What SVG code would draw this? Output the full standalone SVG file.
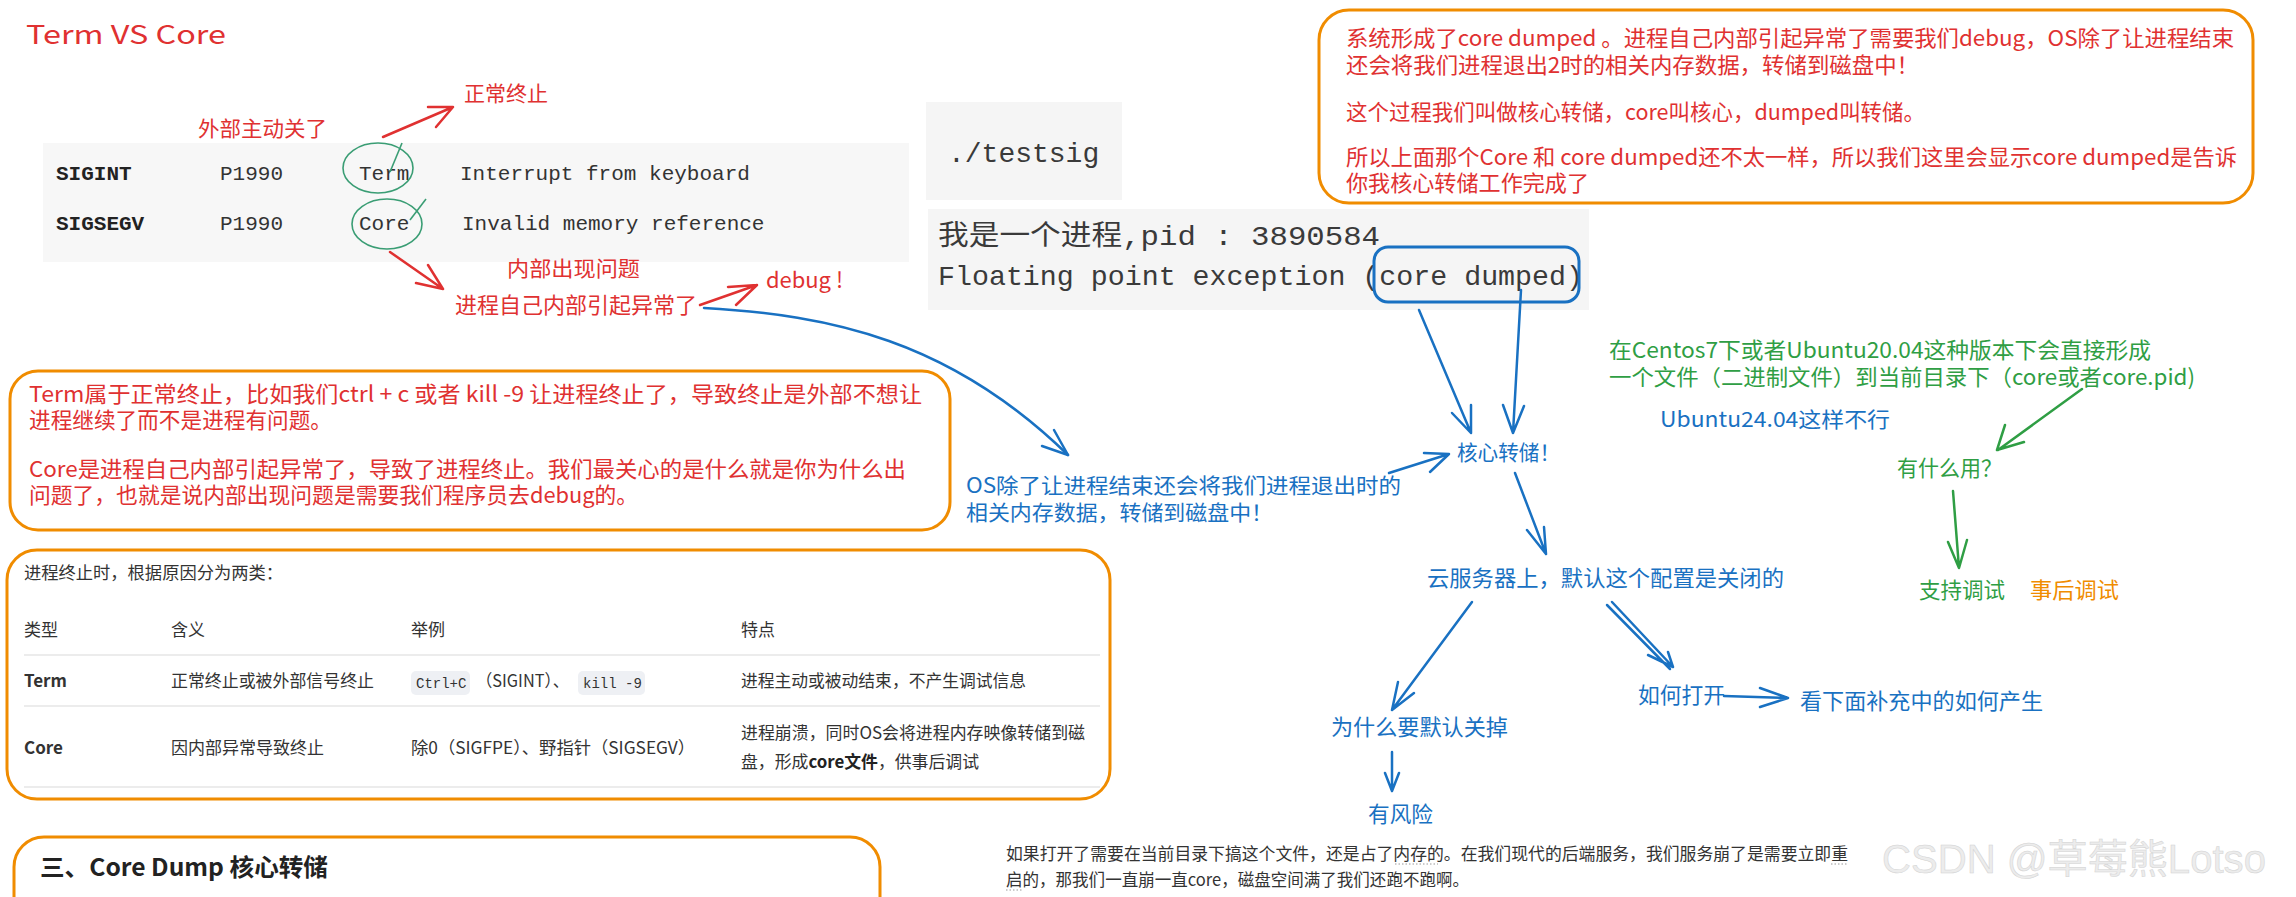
<svg xmlns="http://www.w3.org/2000/svg" width="2296" height="897" viewBox="0 0 2296 897">
<defs>
<style>
.hw{font-family:"Noto Sans CJK SC","Noto Sans",sans-serif;}
.red{fill:#e03131;}
.blue{fill:#1971c2;}
.green{fill:#2f9e44;}
.orange{fill:#f08c00;}
.mono{font-family:"Liberation Mono","DejaVu Sans Mono","Noto Sans CJK SC",monospace;}
.tbl{font-family:"Noto Sans CJK SC","Noto Sans",sans-serif;fill:#333;font-size:17px;}
.box{fill:#fff;stroke:#f08c00;stroke-width:3;}
.ab{fill:none;stroke:#1971c2;stroke-width:2.5;stroke-linecap:round;stroke-linejoin:round;}
.ar{fill:none;stroke:#e03131;stroke-width:2.5;stroke-linecap:round;stroke-linejoin:round;}
.ag{fill:none;stroke:#2f9e44;stroke-width:2.5;stroke-linecap:round;stroke-linejoin:round;}
.circ{fill:none;stroke:#3a9d74;stroke-width:1.6;}
.sep{stroke:#e6e6e6;stroke-width:1.5;}
.chip{fill:#eef0f4;}
</style>
</defs>
<rect width="2296" height="897" fill="#fff"/>

<g id="title">
<text class="hw red" x="26" y="44" font-size="26" textLength="200" lengthAdjust="spacingAndGlyphs">Term VS Core</text>
</g>

<g id="signal-table-shot">
<rect x="43" y="143" width="866" height="119" fill="#f7f7f7"/>
<text class="mono" x="56" y="180" font-size="21" font-weight="bold" fill="#222">SIGINT</text>
<text class="mono" x="220" y="180" font-size="21" fill="#333">P1990</text>
<text class="mono" x="359" y="180" font-size="21" fill="#333">Term</text>
<text class="mono" x="460" y="180" font-size="21" fill="#333">Interrupt from keyboard</text>
<text class="mono" x="56" y="230" font-size="21" font-weight="bold" fill="#222">SIGSEGV</text>
<text class="mono" x="220" y="230" font-size="21" fill="#333">P1990</text>
<text class="mono" x="359" y="230" font-size="21" fill="#333">Core</text>
<text class="mono" x="462" y="230" font-size="21" fill="#333">Invalid memory reference</text>
<ellipse class="circ" cx="378" cy="168" rx="35" ry="25"/>
<path class="circ" d="M402,143 L390,172"/>
<ellipse class="circ" cx="387" cy="224" rx="35" ry="25"/>
<path class="circ" d="M426,199 L410,220"/>
</g>

<g id="label-external">
<text class="hw red" x="198" y="136" font-size="21" textLength="129" lengthAdjust="spacingAndGlyphs">外部主动关了</text>
</g>
<g id="label-normal">
<text class="hw red" x="464" y="101" font-size="21" textLength="84" lengthAdjust="spacingAndGlyphs">正常终止</text>
</g>
<g id="label-internal">
<text class="hw red" x="507" y="276" font-size="21" textLength="133" lengthAdjust="spacingAndGlyphs">内部出现问题</text>
</g>
<g id="label-self-exception">
<text class="hw red" x="455" y="313" font-size="22" textLength="242" lengthAdjust="spacingAndGlyphs">进程自己内部引起异常了</text>
</g>
<g id="label-debug">
<text class="hw red" x="766" y="288" font-size="22" textLength="77" lengthAdjust="spacingAndGlyphs">debug !</text>
</g>

<g id="testsig-shot">
<rect x="926" y="102" width="196" height="98" fill="#f5f5f5"/>
<text class="mono" x="948" y="162" font-size="28" fill="#3a3a3a">./testsig</text>
</g>

<g id="output-shot">
<rect x="928" y="209" width="661" height="101" fill="#f5f5f5"/>
<text class="mono" x="938" y="245" font-size="28" fill="#3a3a3a" textLength="442" lengthAdjust="spacingAndGlyphs">我是一个进程,pid : 3890584</text>
<text class="mono" x="938" y="285" font-size="28" fill="#3a3a3a" textLength="645" lengthAdjust="spacingAndGlyphs">Floating point exception (core dumped)</text>
<rect x="1374" y="247" width="205" height="55" rx="14" fill="none" stroke="#1971c2" stroke-width="3"/>
</g>

<g id="note-core-dumped">
<rect class="box" x="1319" y="10" width="934" height="193" rx="30"/>
<g class="hw red" font-size="22">
<text x="1346" y="46" textLength="888" lengthAdjust="spacingAndGlyphs">系统形成了core dumped 。进程自己内部引起异常了需要我们debug，OS除了让进程结束</text>
<text x="1346" y="73" textLength="573" lengthAdjust="spacingAndGlyphs">还会将我们进程退出2时的相关内存数据，转储到磁盘中！</text>
<text x="1346" y="120" textLength="579" lengthAdjust="spacingAndGlyphs">这个过程我们叫做核心转储，core叫核心，dumped叫转储。</text>
<text x="1346" y="165" textLength="891" lengthAdjust="spacingAndGlyphs">所以上面那个Core 和 core dumped还不太一样，所以我们这里会显示core dumped是告诉</text>
<text x="1346" y="191" textLength="243" lengthAdjust="spacingAndGlyphs">你我核心转储工作完成了</text>
</g>
</g>

<g id="note-term-core">
<rect class="box" x="10" y="371" width="940" height="159" rx="28"/>
<g class="hw red" font-size="22">
<text x="29" y="402" textLength="893" lengthAdjust="spacingAndGlyphs">Term属于正常终止，比如我们ctrl + c 或者 kill -9 让进程终止了，导致终止是外部不想让</text>
<text x="29" y="428" textLength="303" lengthAdjust="spacingAndGlyphs">进程继续了而不是进程有问题。</text>
<text x="29" y="477" textLength="877" lengthAdjust="spacingAndGlyphs">Core是进程自己内部引起异常了，导致了进程终止。我们最关心的是什么就是你为什么出</text>
<text x="29" y="503" textLength="609" lengthAdjust="spacingAndGlyphs">问题了，也就是说内部出现问题是需要我们程序员去debug的。</text>
</g>
</g>

<g id="table-box">
<rect class="box" x="7" y="550" width="1103" height="249" rx="30"/>
<text class="tbl" x="24" y="579" textLength="259" lengthAdjust="spacingAndGlyphs">进程终止时，根据原因分为两类：</text>
<text class="tbl" x="24" y="636">类型</text>
<text class="tbl" x="171" y="636">含义</text>
<text class="tbl" x="411" y="636">举例</text>
<text class="tbl" x="741" y="636">特点</text>
<line class="sep" x1="24" y1="655" x2="1100" y2="655"/>
<text class="tbl" x="24" y="687" font-weight="bold" fill="#222">Term</text>
<text class="tbl" x="171" y="687" textLength="203" lengthAdjust="spacingAndGlyphs">正常终止或被外部信号终止</text>
<rect class="chip" x="411" y="671" width="59" height="24" rx="5"/>
<text class="mono" x="416" y="688" font-size="14" fill="#333">Ctrl+C</text>
<text class="tbl" x="476" y="687" textLength="93" lengthAdjust="spacingAndGlyphs">（SIGINT）、</text>
<rect class="chip" x="578" y="671" width="67" height="24" rx="5"/>
<text class="mono" x="583" y="688" font-size="14" fill="#333">kill -9</text>
<text class="tbl" x="741" y="687" textLength="285" lengthAdjust="spacingAndGlyphs">进程主动或被动结束，不产生调试信息</text>
<line class="sep" x1="24" y1="706" x2="1100" y2="706"/>
<text class="tbl" x="24" y="754" font-weight="bold" fill="#222">Core</text>
<text class="tbl" x="171" y="754" textLength="153" lengthAdjust="spacingAndGlyphs">因内部异常导致终止</text>
<text class="tbl" x="411" y="754" textLength="284" lengthAdjust="spacingAndGlyphs">除0（SIGFPE）、野指针（SIGSEGV）</text>
<text class="tbl" x="741" y="739" textLength="344" lengthAdjust="spacingAndGlyphs">进程崩溃，同时OS会将进程内存映像转储到磁</text>
<text class="tbl" x="741" y="768" textLength="238" lengthAdjust="spacingAndGlyphs">盘，形成<tspan font-weight="bold" fill="#222">core文件</tspan>，供事后调试</text>
<line class="sep" x1="24" y1="787" x2="1100" y2="787"/>
</g>

<g id="section-heading">
<rect class="box" x="14" y="837" width="866" height="100" rx="30"/>
<text x="40" y="876" font-family="Noto Sans CJK SC, Noto Sans, sans-serif" font-size="24" font-weight="bold" fill="#222" textLength="288" lengthAdjust="spacingAndGlyphs">三、Core Dump 核心转储</text>
</g>

<g id="label-os-dump">
<text class="hw blue" x="966" y="493" font-size="21" textLength="435" lengthAdjust="spacingAndGlyphs">OS除了让进程结束还会将我们进程退出时的</text>
<text class="hw blue" x="966" y="520" font-size="21" textLength="307" lengthAdjust="spacingAndGlyphs">相关内存数据，转储到磁盘中！</text>
</g>
<g id="node-core-dump">
<text class="hw blue" x="1457" y="460" font-size="21" textLength="103" lengthAdjust="spacingAndGlyphs">核心转储！</text>
</g>
<g id="node-cloud">
<text class="hw blue" x="1427" y="586" font-size="22" textLength="357" lengthAdjust="spacingAndGlyphs">云服务器上，默认这个配置是关闭的</text>
</g>
<g id="node-why-off">
<text class="hw blue" x="1331" y="735" font-size="22" textLength="177" lengthAdjust="spacingAndGlyphs">为什么要默认关掉</text>
</g>
<g id="node-risk">
<text class="hw blue" x="1368" y="822" font-size="22" textLength="65" lengthAdjust="spacingAndGlyphs">有风险</text>
</g>
<g id="node-how-open">
<text class="hw blue" x="1638" y="703" font-size="22" textLength="87" lengthAdjust="spacingAndGlyphs">如何打开</text>
</g>
<g id="node-see-below">
<text class="hw blue" x="1800" y="709" font-size="22" textLength="243" lengthAdjust="spacingAndGlyphs">看下面补充中的如何产生</text>
</g>
<g id="node-ubuntu24">
<text class="hw blue" x="1660" y="427" font-size="21" textLength="230" lengthAdjust="spacingAndGlyphs">Ubuntu24.04这样不行</text>
</g>
<g id="node-centos">
<text class="hw green" x="1609" y="358" font-size="22" textLength="542" lengthAdjust="spacingAndGlyphs">在Centos7下或者Ubuntu20.04这种版本下会直接形成</text>
<text class="hw green" x="1609" y="385" font-size="22" textLength="586" lengthAdjust="spacingAndGlyphs">一个文件（二进制文件）到当前目录下（core或者core.pid)</text>
</g>
<g id="node-what-use">
<text class="hw green" x="1897" y="476" font-size="22" textLength="105" lengthAdjust="spacingAndGlyphs">有什么用？</text>
</g>
<g id="node-debug-support">
<text class="hw green" x="1919" y="598" font-size="22" textLength="86" lengthAdjust="spacingAndGlyphs">支持调试</text>
<text class="hw orange" x="2030" y="598" font-size="22" textLength="89" lengthAdjust="spacingAndGlyphs">事后调试</text>
</g>

<g id="bottom-note">
<text class="tbl" x="1006" y="860" textLength="842" lengthAdjust="spacingAndGlyphs">如果打开了需要在当前目录下搞这个文件，还是占了内存的。在我们现代的后端服务，我们服务崩了是需要立即重</text>
<text class="tbl" x="1006" y="886" textLength="463" lengthAdjust="spacingAndGlyphs">启的，那我们一直崩一直core，磁盘空间满了我们还跑不跑啊。</text>
<g stroke="#999" stroke-width="1" stroke-dasharray="1.5,2">
<line x1="1395" y1="864" x2="1438" y2="864"/>
<line x1="1831" y1="864" x2="1848" y2="864"/>
<line x1="1006" y1="890" x2="1022" y2="890"/>
</g>
</g>

<g id="watermark">
<text x="1882" y="873" font-family="Liberation Sans, Noto Sans CJK SC, sans-serif" font-size="40" fill="#ececec" stroke="#d2d2d2" stroke-width="0.5" textLength="384" lengthAdjust="spacingAndGlyphs">CSDN @草莓熊Lotso</text>
</g>

<g id="connectors">
<path class="ar" d="M383,137 L453,107 M428,107 L453,107 L436,127"/>
<path class="ar" d="M390,252 L443,289 M416,283 L443,289 L428,265"/>
<path class="ar" d="M700,305 L757,285 M728,287 L757,285 L736,305"/>
<path class="ab" stroke-width="4" d="M704,308 C 830,315 950,340 1068,455"/>
<path class="ab" d="M1042,446 L1068,455 L1054,430"/>
<path class="ab" d="M1389,473 L1449,454 M1424,453 L1449,454 L1430,472"/>
<path class="ab" d="M1419,310 L1471,433 M1452,413 L1471,433 L1471,405"/>
<path class="ab" d="M1521,290 L1513,433 M1503,405 L1513,433 L1524,406"/>
<path class="ab" d="M1515,473 L1546,554 M1527,530 L1546,554 L1544,527"/>
<path class="ab" d="M1472,602 L1392,710 M1398,682 L1392,710 L1414,693"/>
<path class="ab" d="M1612,602 L1673,667 M1607,605 L1670,669 M1648,655 L1673,667 L1668,652"/>
<path class="ab" d="M1392,752 L1392,790 M1385,773 L1392,791 L1399,773"/>
<path class="ab" d="M1724,696 L1788,698 M1760,688 L1788,698 L1760,707"/>
<path class="ag" d="M2082,389 L1998,450 M2005,425 L1997,450 L2024,442"/>
<path class="ag" d="M1953,491 L1959,568 M1948,542 L1959,568 L1967,540"/>
</g>
</svg>
